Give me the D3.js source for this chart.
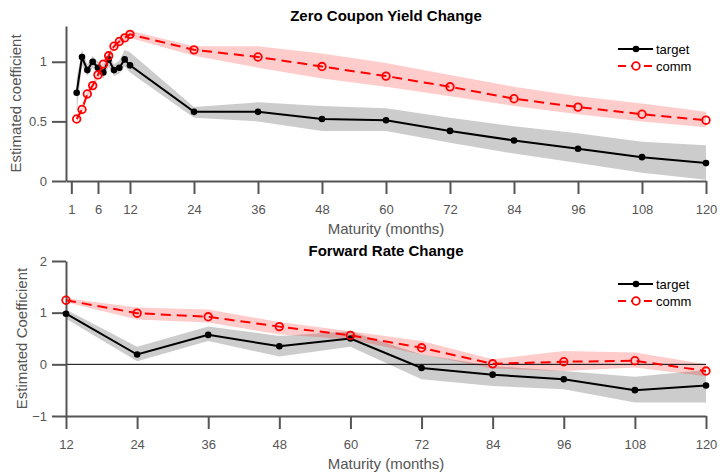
<!DOCTYPE html>
<html>
<head>
<meta charset="utf-8">
<script src="https://cdn.jsdelivr.net/npm/d3@7"></script>
<style>
  body { margin: 0; background: #fff; }
  svg { font-family: "Liberation Sans", Arial, sans-serif; }
</style>
</head>
<body>
<svg width="720" height="472"></svg>
<script>
// zero coupon yield change panel
const monthsZero = [2,3,4,5,6,7,8,9,10,11,12,24,36,48,60,72,84,96,108,120];
const zeroTarget   = [0.74,1.04,0.93,1.00,0.95,0.91,1.02,0.93,0.95,1.02,0.97,0.58,0.58,0.52,0.51,0.42,0.34,0.27,0.20,0.15];
const zeroTargetLo = [0.58,0.97,0.88,0.95,0.90,0.86,0.96,0.88,0.90,0.96,0.91,0.53,0.50,0.42,0.42,0.32,0.23,0.15,0.07,0.01];
const zeroTargetHi = [0.86,1.10,0.98,1.05,1.00,0.96,1.07,0.98,1.01,1.10,1.08,0.62,0.66,0.63,0.61,0.53,0.46,0.40,0.33,0.30];
const zeroComm   = [0.52,0.60,0.73,0.80,0.89,0.98,1.05,1.13,1.17,1.20,1.23,1.10,1.04,0.96,0.88,0.79,0.69,0.62,0.56,0.51];
const zeroCommLo = [0.49,0.57,0.70,0.77,0.86,0.95,1.02,1.10,1.14,1.17,1.20,1.05,0.95,0.86,0.79,0.71,0.63,0.56,0.50,0.45];
const zeroCommHi = [0.55,0.63,0.76,0.83,0.92,1.01,1.08,1.16,1.20,1.23,1.26,1.13,1.13,1.07,0.99,0.89,0.79,0.71,0.65,0.58];
const zeroXTicks = [1,6,12,24,36,48,60,72,84,96,108,120];
const zeroYTicks = [0,0.5,1];

// forward rate change panel
const monthsFwd = [12,24,36,48,60,72,84,96,108,120];
const fwdTarget   = [0.98,0.19,0.57,0.35,0.50,-0.07,-0.20,-0.29,-0.50,-0.41];
const fwdTargetLo = [0.88,0.06,0.45,0.15,0.34,-0.29,-0.42,-0.48,-0.74,-0.74];
const fwdTargetHi = [1.06,0.34,0.73,0.55,0.64,0.19,-0.03,-0.13,-0.24,-0.11];
const fwdComm   = [1.24,0.99,0.92,0.73,0.56,0.32,0.01,0.05,0.07,-0.13];
const fwdCommLo = [1.20,0.87,0.81,0.58,0.48,0.19,-0.08,-0.13,-0.06,-0.23];
const fwdCommHi = [1.28,1.10,1.06,0.82,0.64,0.45,0.10,0.26,0.23,0.00];
const fwdXTicks = [12,24,36,48,60,72,84,96,108,120];
const fwdYTicks = [-1,0,1,2];

const svg = d3.select("svg");
const axisColor = "#555";

function panel(o) {
  const g = svg.append("g");
  const x = d3.scaleLinear().domain(o.xDomain).range([66, 706]);
  const y = d3.scaleLinear().domain(o.yDomain).range([o.bottom, o.top]);

  const rows = (m, v, lo, hi) => m.map((d, i) => ({m: d, v: v[i], lo: lo[i], hi: hi[i]}));
  const target = rows(o.months, o.target, o.targetLo, o.targetHi);
  const comm = rows(o.months, o.comm, o.commLo, o.commHi);

  const area = d3.area().x(d => x(d.m)).y0(d => y(d.lo)).y1(d => y(d.hi));
  const line = d3.line().x(d => x(d.m)).y(d => y(d.v));

  g.append("path").attr("d", area(target)).attr("fill", "#000").attr("fill-opacity", 0.2);
  g.append("path").attr("d", area(comm)).attr("fill", "#f00").attr("fill-opacity", 0.2);

  if (o.zeroLine) {
    g.append("line").attr("x1", x.range()[0]).attr("x2", x.range()[1])
      .attr("y1", y(0)).attr("y2", y(0)).attr("stroke", "#000").attr("stroke-width", 1);
  }

  // axes
  const xa = g.append("g").attr("transform", `translate(0,${o.bottom})`)
    .call(d3.axisBottom(x).tickValues(o.xTicks).tickSize(13).tickSizeOuter(0).tickPadding(11));
  const ya = g.append("g").attr("transform", "translate(66,0)")
    .call(d3.axisLeft(y).tickValues(o.yTicks).tickSize(14).tickSizeOuter(0).tickPadding(5)
      .tickFormat(d3.format("")));
  [xa, ya].forEach(a => {
    a.select(".domain").attr("stroke", axisColor).attr("stroke-width", 2);
    a.selectAll(".tick line").attr("stroke", axisColor).attr("stroke-width", 2);
    a.selectAll(".tick text").attr("fill", axisColor).attr("font-size", 13)
      .attr("font-family", "Liberation Sans, Arial, sans-serif");
  });

  // target series
  g.append("path").attr("d", line(target)).attr("fill", "none")
    .attr("stroke", "#000").attr("stroke-width", 2);
  g.selectAll(".tdot").data(target).join("circle")
    .attr("cx", d => x(d.m)).attr("cy", d => y(d.v)).attr("r", 3.3).attr("fill", "#000");

  // comm series
  g.append("path").attr("d", line(comm)).attr("fill", "none")
    .attr("stroke", "#f00").attr("stroke-width", 2).attr("stroke-dasharray", "10,6");
  g.selectAll(".cdot").data(comm).join("circle")
    .attr("cx", d => x(d.m)).attr("cy", d => y(d.v)).attr("r", 3.8)
    .attr("fill", "none").attr("stroke", "#f00").attr("stroke-width", 1.8);

  // titles and labels
  g.append("text").attr("x", 386).attr("y", o.titleY).attr("text-anchor", "middle")
    .attr("font-weight", "bold").attr("font-size", 15).attr("fill", "#000").text(o.title);
  g.append("text").attr("x", 386).attr("y", o.bottom + 53).attr("text-anchor", "middle")
    .attr("font-size", 15).attr("fill", axisColor).text("Maturity (months)");
  g.append("text").attr("transform", `translate(${o.yLabelX},${(o.top + o.bottom) / 2}) rotate(-90)`)
    .attr("text-anchor", "middle").attr("font-size", 15).attr("fill", axisColor).text(o.yLabel);

  // legend
  const lg = g.append("g");
  const ly = o.legendY;
  lg.append("line").attr("x1", 618).attr("x2", 653).attr("y1", ly).attr("y2", ly)
    .attr("stroke", "#000").attr("stroke-width", 2);
  lg.append("circle").attr("cx", 636).attr("cy", ly).attr("r", 3.3).attr("fill", "#000");
  lg.append("text").attr("x", 656).attr("y", ly + 4.5).attr("font-size", 13).attr("fill", "#000").text("target");
  lg.append("line").attr("x1", 618).attr("x2", 653).attr("y1", ly + 17).attr("y2", ly + 17)
    .attr("stroke", "#f00").attr("stroke-width", 2).attr("stroke-dasharray", "8,5");
  lg.append("circle").attr("cx", 636).attr("cy", ly + 17).attr("r", 3.8)
    .attr("fill", "#fff").attr("stroke", "#f00").attr("stroke-width", 1.8);
  lg.append("text").attr("x", 656).attr("y", ly + 21.5).attr("font-size", 13).attr("fill", "#000").text("comm");
}

panel({
  months: monthsZero, target: zeroTarget, targetLo: zeroTargetLo, targetHi: zeroTargetHi,
  comm: zeroComm, commLo: zeroCommLo, commHi: zeroCommHi,
  xDomain: [0, 120], yDomain: [0, 1.3], top: 26, bottom: 181,
  xTicks: zeroXTicks, yTicks: zeroYTicks,
  title: "Zero Coupon Yield Change", titleY: 21, yLabel: "Estimated coefficient", yLabelX: 21,
  legendY: 49, zeroLine: false
});

panel({
  months: monthsFwd, target: fwdTarget, targetLo: fwdTargetLo, targetHi: fwdTargetHi,
  comm: fwdComm, commLo: fwdCommLo, commHi: fwdCommHi,
  xDomain: [12, 120], yDomain: [-1, 2], top: 261, bottom: 416,
  xTicks: fwdXTicks, yTicks: fwdYTicks,
  title: "Forward Rate Change", titleY: 256, yLabel: "Estimated Coefficient", yLabelX: 27,
  legendY: 284, zeroLine: true
});
</script>
</body>
</html>
